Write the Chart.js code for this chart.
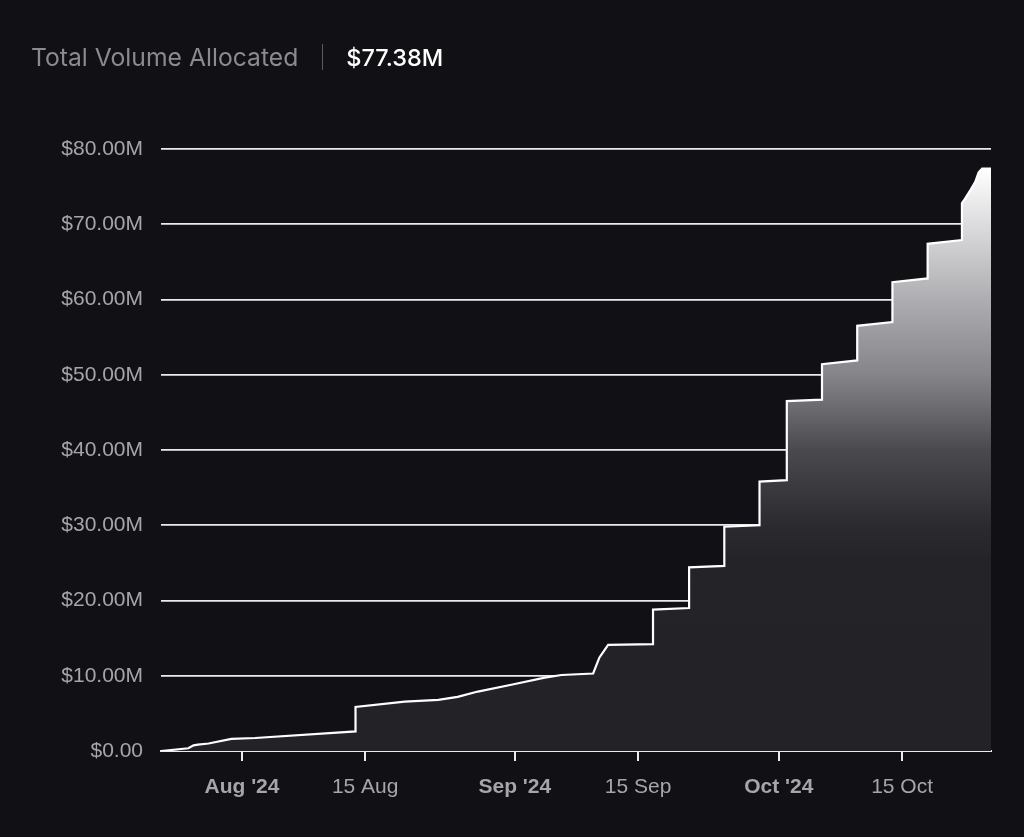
<!DOCTYPE html>
<html>
<head>
<meta charset="utf-8">
<title>Total Volume Allocated</title>
<script src="https://cdn.jsdelivr.net/npm/chart.js@4.4.1/dist/chart.umd.min.js"></script>
<style>
    html, body { margin: 0; padding: 0; background: #111015; overflow: hidden; }
    #wrap { position: relative; width: 1024px; height: 837px; }
    #head { position: absolute; left: 31px; top: 40px; height: 34px; display: flex; align-items: center; font-family: Inter, "Noto Sans", sans-serif; font-size: 24.7px; }
    #head .label { color: #8b8a90; }
    #head .sep { width: 1px; height: 26px; background: #5c5b61; margin: 0 23px 0 24px; }
    #head .value { color: #ffffff; font-weight: 500; font-size: 23.5px; }
    #chart { position: absolute; left: 0; top: 0; }
</style>
</head>
<body>
<div id="wrap">
    <canvas id="chart" width="1024" height="837"></canvas>
    <div id="head"><span class="label">Total Volume Allocated</span><span class="sep"></span><span class="value">$77.38M</span></div>
</div>
<script>
// x = days since 1 Aug 2024, y = cumulative volume in $M
const dayOffset = [
    -9.2, -6.1, -5.5, -5.0, -3.8, -1.2, 1.5, 12.9, 12.9, 18.5,
    22.3, 24.5, 26.8, 30.6, 34.4, 36.3, 39.9, 40.6, 41.6, 46.7,
    46.7, 50.8, 50.8, 54.8, 54.8, 58.8, 58.8, 61.9, 61.9, 65.9,
    65.9, 69.9, 69.9, 73.9, 73.9, 77.9, 77.9, 81.8, 81.8, 82.1,
    82.8, 83.3, 83.7, 84.1, 85.1
]
const allocatedM = [
    0, 0.36, 0.75, 0.85, 1.0, 1.6, 1.73, 2.6, 5.85, 6.55,
    6.8, 7.2, 7.9, 8.8, 9.74, 10.1, 10.3, 12.4, 14.1, 14.2,
    18.8, 19.0, 24.4, 24.6, 29.8, 30.0, 35.8, 36.0, 46.5, 46.7,
    51.4, 51.9, 56.5, 57.0, 62.3, 62.8, 67.4, 67.9, 72.8, 73.3,
    74.6, 75.6, 76.9, 77.38, 77.38
]

const tickDays = [0, 14, 31, 45, 61, 75]
const tickLabels = ["Aug '24", '15 Aug', "Sep '24", '15 Sep', "Oct '24", '15 Oct']
const monthTicks = [true, false, true, false, true, false]

// fill shade by value ($M)
const fillStops = [0, 25, 30, 40, 45, 50, 60, 70, 77.4]
const fillColors = ['#232227', '#242328', '#2b2a2f', '#4a494e', '#68676c', '#858589', '#aeaeb2', '#dcdcde', '#ffffff']

const lineColor = '#ffffff'
const gridColor = '#ebebed'
const labelColor = '#a6a5aa'

Chart.defaults.font.family = '"Liberation Sans", Arial, sans-serif'
Chart.defaults.font.size = 21

function areaFill(context) {
    const { chart } = context
    const area = chart.chartArea
    if (!area) return '#232227'
    const y = chart.scales.y
    const g = chart.ctx.createLinearGradient(0, area.bottom, 0, area.top)
    fillStops.forEach((v, i) => {
        const pos = (area.bottom - y.getPixelForValue(v)) / (area.bottom - area.top)
        g.addColorStop(Math.min(1, Math.max(0, pos)), fillColors[i])
    })
    return g
}

new Chart(document.getElementById('chart'), {
    type: 'line',
    data: {
        datasets: [{
            data: dayOffset.map((d, i) => ({ x: d, y: allocatedM[i] })),
            borderColor: lineColor,
            borderWidth: 2.2,
            pointRadius: 0,
            tension: 0,
            fill: 'origin',
            backgroundColor: areaFill
        }]
    },
    options: {
        responsive: false,
        animation: false,
        layout: { padding: { top: 149, right: 33, left: 0, bottom: 0 } },
        plugins: {
            legend: { display: false },
            tooltip: { enabled: false }
        },
        scales: {
            x: {
                type: 'linear',
                min: -9.2,
                max: 85.1,
                z: 1,
                afterBuildTicks(scale) {
                    scale.ticks = tickDays.map((v, i) => ({ value: v, major: monthTicks[i] }))
                },
                afterFit(scale) {
                    scale.height = 86
                },
                ticks: {
                    autoSkip: false,
                    maxRotation: 0,
                    padding: 14,
                    color: labelColor,
                    callback: (value, index) => tickLabels[index],
                    font: (ctx) => ({ size: 21, weight: monthTicks[ctx.index] ? 'bold' : 'normal' })
                },
                grid: {
                    drawOnChartArea: false,
                    drawTicks: true,
                    tickLength: 10,
                    color: gridColor,
                    lineWidth: 2
                },
                border: { display: true, color: gridColor, width: 2 }
            },
            y: {
                min: 0,
                max: 80,
                z: 1,
                afterFit(scale) {
                    scale.width = 161
                },
                ticks: {
                    stepSize: 10,
                    padding: 18,
                    color: labelColor,
                    callback: (v) => v == 0 ? '$0.00' : '$' + v.toFixed(2) + 'M'
                },
                grid: {
                    drawTicks: false,
                    color: gridColor,
                    lineWidth: 1.8
                },
                border: { display: false }
            }
        }
    }
})
</script>
</body>
</html>
